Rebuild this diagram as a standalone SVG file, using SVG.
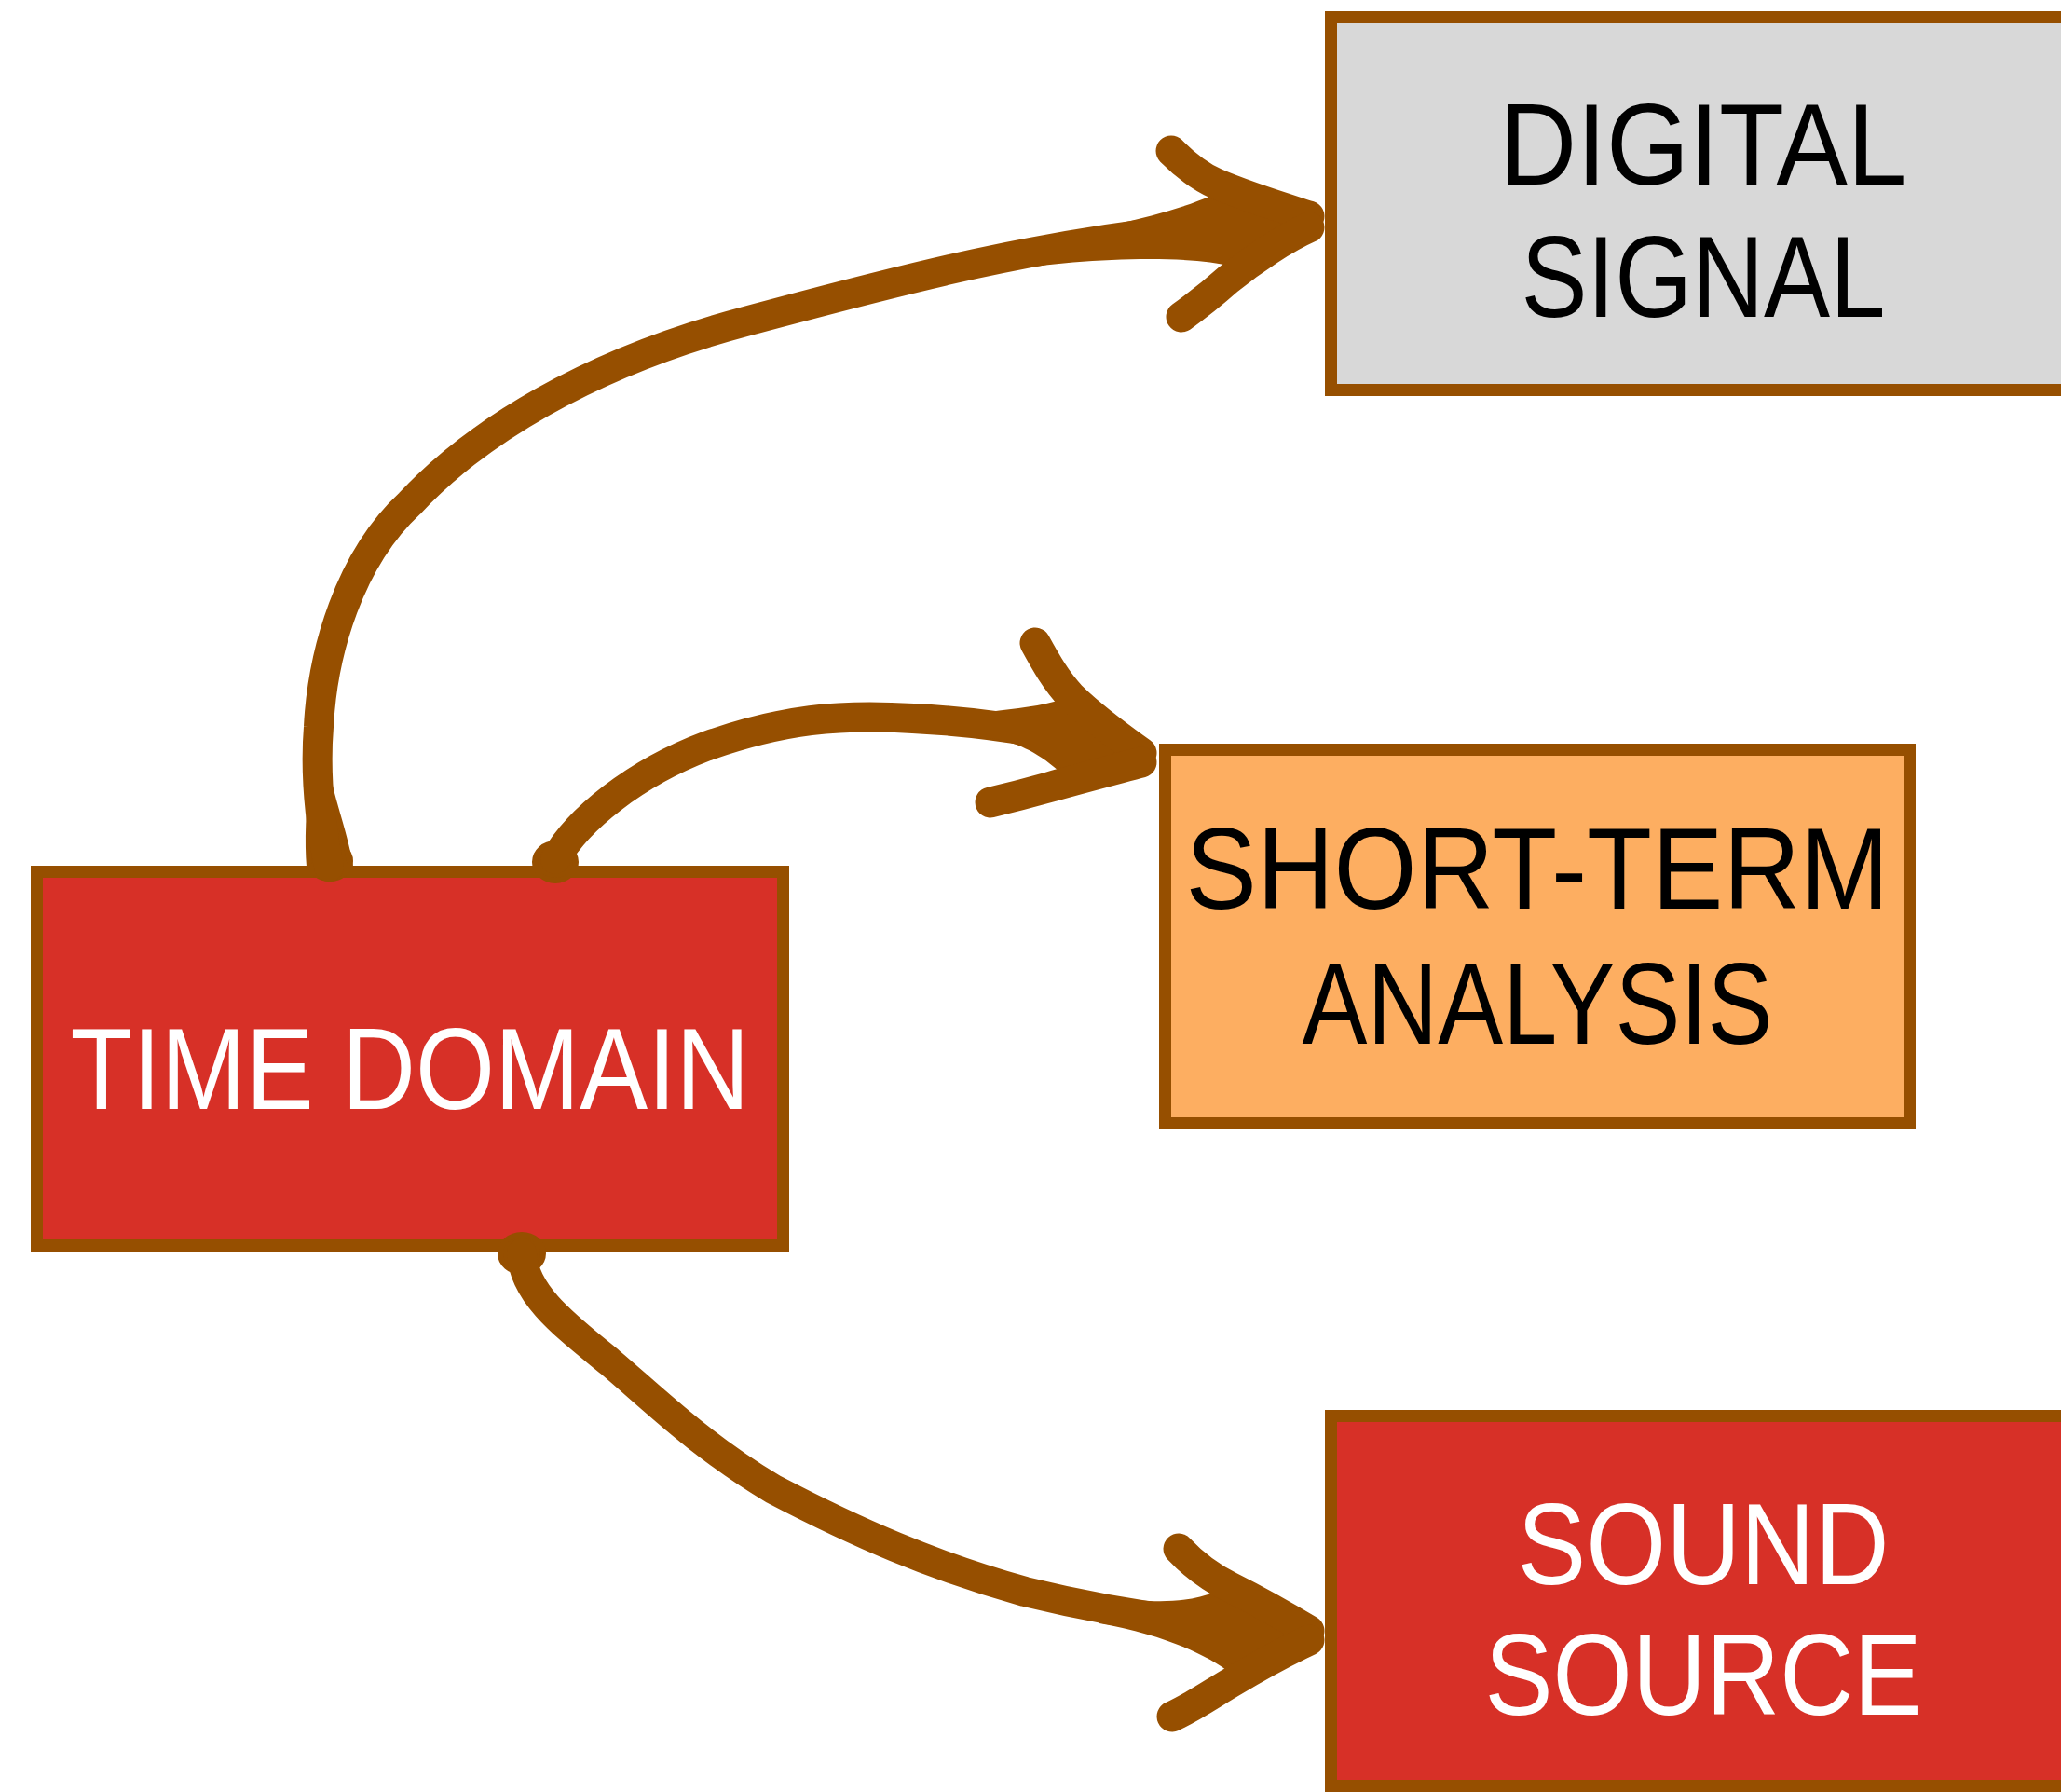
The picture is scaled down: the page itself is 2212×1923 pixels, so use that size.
<svg xmlns="http://www.w3.org/2000/svg" width="2212" height="1923" viewBox="0 0 2212 1923">
  <style>
    .box { stroke: #964f00; stroke-width: 13; }
    .red { fill: #d73027; }
    .orange { fill: #fdae61; }
    .grey { fill: #d8d8d8; }
    .label { font-family: "Liberation Sans", Arial, sans-serif; font-size: 125px; text-anchor: middle; }
    .light { fill: #ffffff; }
    .dark { fill: #000000; }
    .shaft { fill: none; stroke: #964f00; stroke-width: 32; stroke-linecap: round; stroke-linejoin: round; }
    .barb { fill: none; stroke: #964f00; stroke-width: 33; stroke-linecap: round; stroke-linejoin: round; }
    .blob { fill: #964f00; stroke: #964f00; stroke-width: 6; stroke-linejoin: round; }
    .flare { fill: #964f00; }
  </style>

  <rect width="2212" height="1923" fill="#ffffff"/>

  <g id="nodes">
    <g id="time-domain">
      <rect class="box red" x="39.5" y="935.5" width="801" height="401"/>
      <text class="label light" x="440" y="1190" textLength="729" lengthAdjust="spacingAndGlyphs">TIME DOMAIN</text>
    </g>
    <g id="digital-signal">
      <rect class="box grey" x="1428.5" y="18.5" width="801" height="400"/>
      <text class="label dark" x="1828" y="198" textLength="437" lengthAdjust="spacingAndGlyphs">DIGITAL</text>
      <text class="label dark" x="1828" y="340" textLength="391" lengthAdjust="spacingAndGlyphs">SIGNAL</text>
    </g>
    <g id="short-term-analysis">
      <rect class="box orange" x="1250.5" y="804.5" width="799" height="401"/>
      <text class="label dark" x="1650" y="975" textLength="755" lengthAdjust="spacingAndGlyphs">SHORT-TERM</text>
      <text class="label dark" x="1650" y="1120" textLength="505" lengthAdjust="spacingAndGlyphs">ANALYSIS</text>
    </g>
    <g id="sound-source">
      <rect class="box red" x="1428.5" y="1519.5" width="801" height="397"/>
      <text class="label light" x="1828" y="1700" textLength="399" lengthAdjust="spacingAndGlyphs">SOUND</text>
      <text class="label light" x="1828" y="1840" textLength="469" lengthAdjust="spacingAndGlyphs">SOURCE</text>
    </g>
  </g>

  <g id="connectors">
    <!-- time domain -> digital signal -->
    <g id="edge-digital">
      <ellipse class="blob" cx="354" cy="924" rx="22" ry="19"/>
      <path class="blob" d="M332,930 C329,895 332,860 336,825 L350,825 C356,860 371,895 376,930 Z"/>
      <path class="shaft" d="M353,930 C343,880 338,830 342,780 C346,700 375,600 440,540 C510,465 630,390 800,345 C936,309 1100,262 1300,243 L1400,236"/>
      <path class="flare" d="M1077,263 C1150,250 1240,236 1300,210 L1418,236 L1322,286 C1270,272 1150,278 1077,291 Z"/>
      <path class="barb" d="M1405,232 C1380,224 1340,212 1305,197 C1285,188 1270,175 1257,162"/>
      <path class="barb" d="M1405,244 C1380,255 1345,278 1318,300 C1300,316 1282,330 1268,340"/>
    </g>
    <!-- time domain -> short-term analysis -->
    <g id="edge-analysis">
      <ellipse class="blob" cx="596" cy="925" rx="22" ry="20"/>
      <path class="shaft" d="M596,922 C620,880 680,830 760,800 C840,772 900,766 980,771 C1080,776 1150,792 1215,810"/>
      <path class="flare" d="M1062,764 C1090,760 1118,758 1141,750 L1238,813 L1136,827 C1112,806 1090,796 1062,792 Z"/>
      <path class="barb" d="M1225,808 C1200,790 1170,768 1150,748 C1133,730 1122,710 1111,690"/>
      <path class="barb" d="M1225,818 C1195,826 1160,835 1125,845 C1100,852 1080,857 1063,861"/>
    </g>
    <!-- time domain -> sound source -->
    <g id="edge-sound">
      <ellipse class="blob" cx="560" cy="1345" rx="23" ry="20"/>
      <path class="shaft" d="M560,1345 C562,1390 610,1425 655,1462 C700,1500 750,1550 830,1598 C920,1645 1000,1680 1100,1708 C1190,1730 1260,1740 1330,1745 L1400,1752"/>
      <path class="flare" d="M1180,1712 C1230,1720 1270,1722 1305,1708 L1420,1755 L1316,1792 C1285,1770 1240,1753 1180,1742 Z"/>
      <path class="barb" d="M1405,1750 C1380,1735 1350,1718 1320,1703 C1298,1692 1280,1678 1265,1662"/>
      <path class="barb" d="M1405,1760 C1380,1772 1350,1788 1322,1805 C1300,1818 1280,1832 1258,1842"/>
    </g>
  </g>
</svg>
